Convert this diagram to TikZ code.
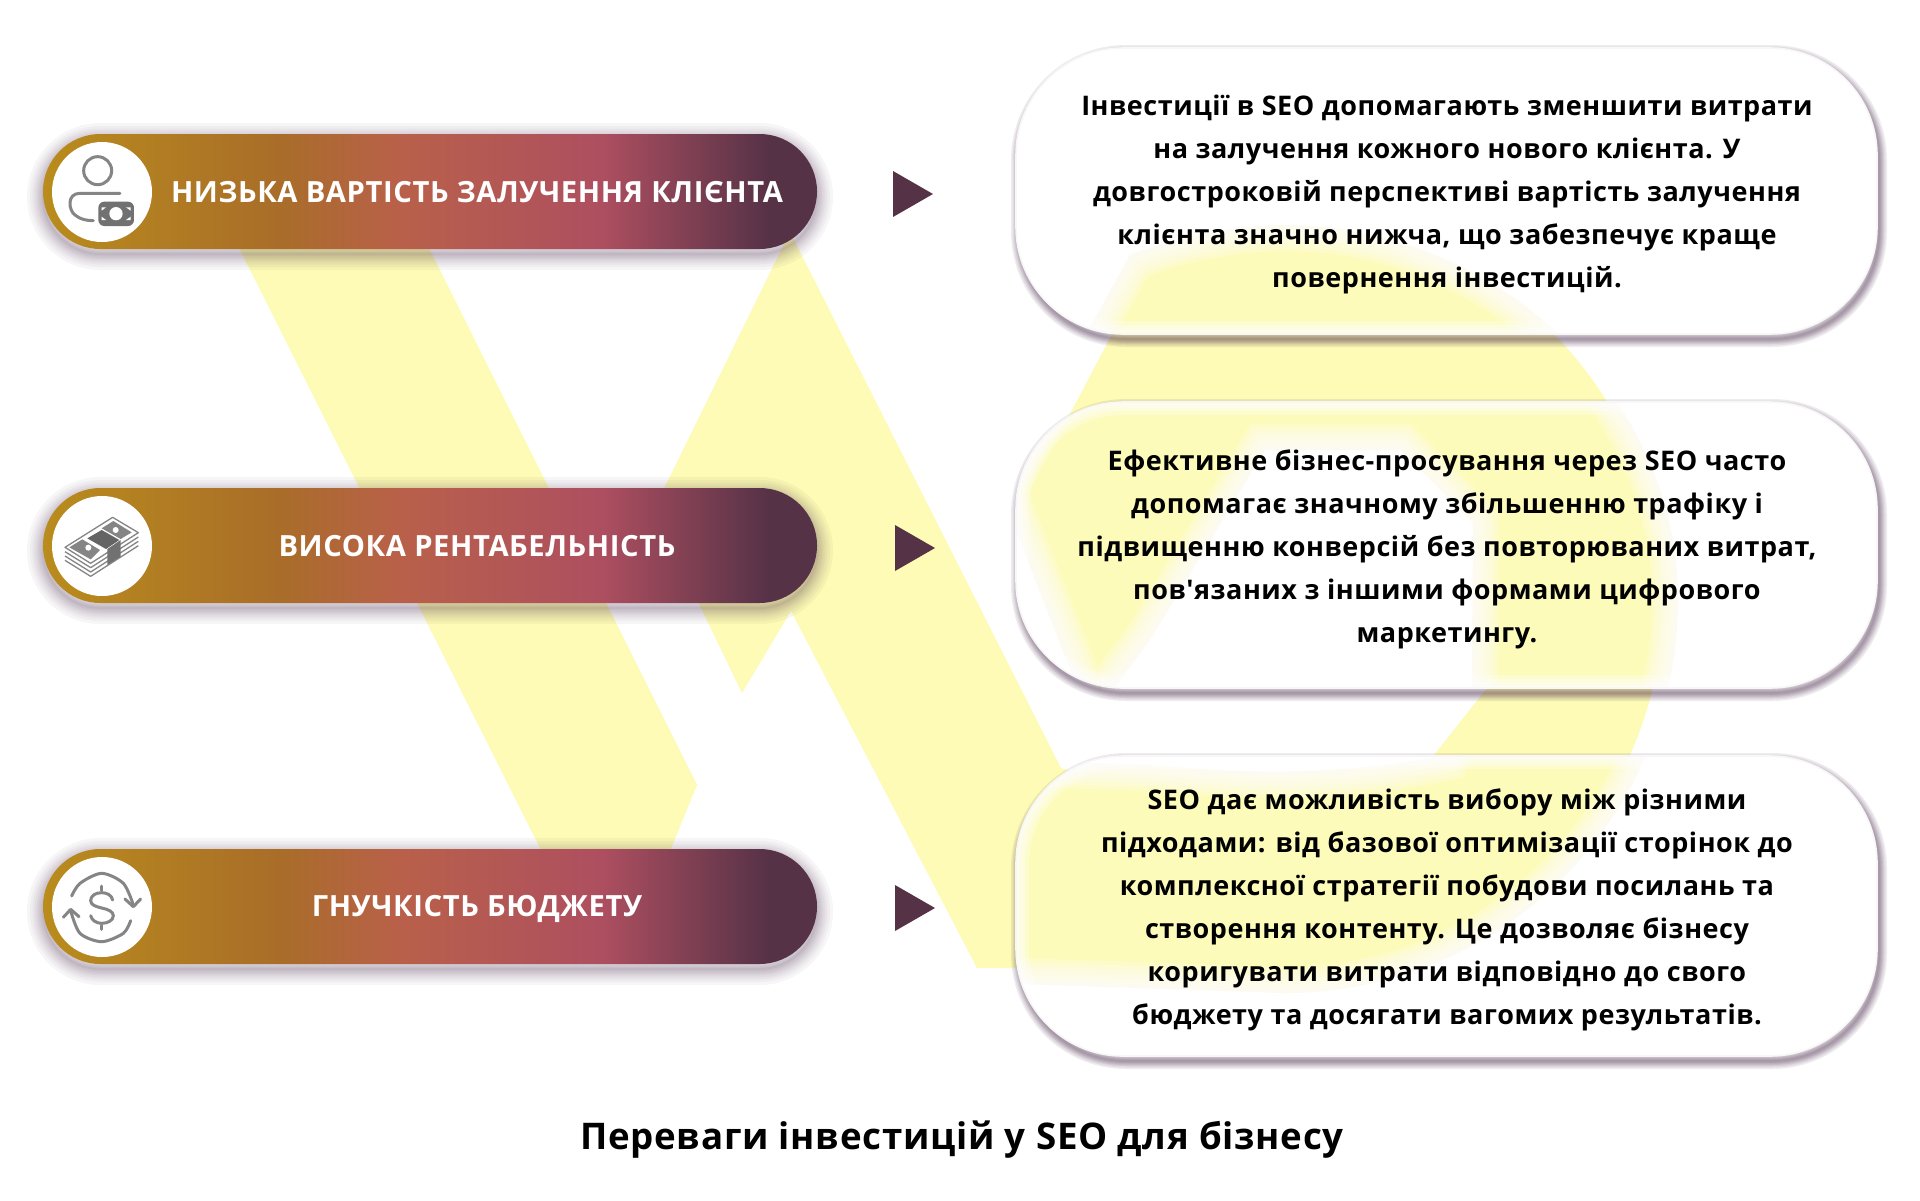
\documentclass[tikz,border=0pt]{standalone}
\usepackage{fontspec}
\setmainfont{Open Sans}[LetterSpace=2,Ligatures=TeXOff]
\usetikzlibrary{calc}
\definecolor{yw}{HTML}{FDFBB5}
\definecolor{plum}{HTML}{563247}
\definecolor{shcol}{HTML}{4E3050}
\definecolor{icg}{HTML}{858585}
\definecolor{pA}{HTML}{B98C1C}
\definecolor{pB}{HTML}{A96D29}
\definecolor{pC}{HTML}{B9604A}
\definecolor{pD}{HTML}{AE4F60}
\definecolor{pE}{HTML}{563247}
\pgfdeclarehorizontalshading{pillgrad}{100bp}{
  color(0bp)=(pA); color(25bp)=(pA); color(40.3bp)=(pB); color(48.1bp)=(pC);
  color(61bp)=(pD); color(71.9bp)=(pE); color(75bp)=(pE); color(100bp)=(pE)}
\def\ringpath{(1030,490) -- (1160,243) .. controls (1200,229) and (1243,222) .. (1285,222)
  .. controls (1494,222) and (1663,391) .. (1663,600) .. controls (1663,809) and (1494,978) .. (1285,978)
  -- (1100,968) -- (1061,768) .. controls (1150,800) and (1300,830) .. (1434,755)
  -- (1487,688) -- (1488,523) -- (1400,410) -- (1230,410) -- (1115,620) -- (1100,690) -- cycle}
\def\ringblur{(1000,490) -- (1130,255) .. controls (1180,235) and (1240,225) .. (1285,225)
  .. controls (1490,225) and (1678,390) .. (1678,600) .. controls (1678,817) and (1502,993) .. (1285,993)
  -- (990,983) -- (1000,760) -- (1150,765) .. controls (1250,775) and (1350,775) .. (1445,755)
  -- (1472,695) -- (1473,523) -- (1400,450) -- (1265,450) -- (1150,640) -- (1090,720) -- cycle}
\def\ringedge{(1000,760) -- (1150,765) .. controls (1250,775) and (1350,775) .. (1445,755)
  -- (1472,695) -- (1473,523) -- (1400,450) -- (1265,450) -- (1150,640) -- (1090,720)
  -- (1000,490) -- (1130,255) .. controls (1180,235) and (1240,225) .. (1285,225)
  .. controls (1490,225) and (1678,390) .. (1678,600) .. controls (1678,817) and (1502,993) .. (1285,993)
  -- (990,983)}
\def\wright{(790,232) -- (1162,968) -- (977,968) -- (791,611) -- (742,693) -- (699,604) -- (652,513) -- cycle}
\def\wbox{(790,232) -- (1150,945) -- (977,945) -- (791,611) -- (742,693) -- (699,604) -- (652,513) -- cycle}
\def\wleft{(210,190) -- (400,190) -- (697,785) -- (650,900) -- (566,900) -- cycle}
\newcommand\softshadow[7]{% x1 y1 x2 y2 radius alpha widths
  \foreach \w in {#7}{
    \draw[shcol,opacity=#6,line width=\w pt,rounded corners=#5pt] (#1,#2) rectangle (#3,#4);}}
\newcommand\glassbox[2]{%
  \softshadow{1019}{#1+5}{1879}{#2+5}{107}{.09}{16,13,10,8,6,4,2}
  \begin{scope}
    \clip[rounded corners=107pt] (1016,#1) rectangle (1877,#2);
    \fill[white] (1000,#1) rectangle (1900,#2);
    \fill[yw] \wbox;
    \fill[yw] \ringblur;
    \foreach \w in {52,44,36,28,20,12,6}{\draw[white,opacity=.22,line width=\w pt] \ringedge;}
    \fill[white,opacity=.08] (1000,#1) rectangle (1900,#2);
    \foreach \w in {26,18,12,6}{\draw[white,opacity=.3,line width=\w pt,rounded corners=107pt] (1016,#1) rectangle (1877,#2);}
  \end{scope}
  \draw[white!97!black,line width=1.6pt,rounded corners=107pt] (1016,#1) rectangle (1877,#2);
}
\newcommand\pill[1]{%
  \softshadow{43}{#1+5}{817}{#1+120}{57.5}{.045}{32,26,21,17,13,10,7,4,2}
  \shade[shading=pillgrad,rounded corners=57.5pt] (43,#1) rectangle (817,#1+115);
  \fill[white] (102,#1+58) circle[radius=50];
}
\begin{document}
\begin{tikzpicture}[x=1pt,y=-1pt,
  pilltext/.style={text=white,font=\fontsize{29.2}{34}\selectfont\bfseries,inner sep=0pt},
  bodytext/.style={text=black,align=center,font=\fontsize{27}{43}\selectfont\bfseries,inner sep=0pt},
  titletext/.style={text=black,font=\fontsize{36.7}{44}\selectfont\bfseries,inner sep=0pt},
  marker/.style={fill=plum},
  icline/.style={draw=icg,line width=3pt,line cap=round,line join=round},
  icthin/.style={draw=icg,line width=1.3pt,line join=round}]
\useasboundingbox (0,0) rectangle (1920,1200);
\fill[white] (0,0) rectangle (1920,1200);
% background logo
\fill[yw] \wleft;
\fill[yw] \wright;
\fill[yw] \ringpath;
% pills
\pill{134}
\pill{488}
\pill{849}
% icon 1
\begin{scope}[shift={(0,100)},scale=1/3]
  \draw[icline] (293,212) circle[radius=42];
  \draw[icline] (360,280) -- (240,280) .. controls (200,280) and (205,330) .. (225,345) .. controls (240,358) and (260,362) .. (280,362);
  \fill[icg!85!black,rounded corners=6pt] (295,305) rectangle (402,378);
  \fill[white] (348,341) circle[radius=20];
  \fill[white] (318,322) -- (305,322) -- (305,332) -- cycle;
  \fill[white] (378,322) -- (392,322) -- (392,332) -- cycle;
  \fill[white] (318,360) -- (305,360) -- (305,350) -- cycle;
  \fill[white] (378,360) -- (392,360) -- (392,350) -- cycle;
\end{scope}
% icon 2
\begin{scope}[shift={(0,460)},scale=1/3]
  \foreach \k in {39,26,13}{\draw[icthin] (195,262+\k) -- (272,310+\k) -- (415,218+\k);}
  \draw[icthin,fill=white] (195,262) -- (338,172) -- (415,218) -- (272,310) -- cycle;
  \fill[icg] (208,262) -- (247,238) -- (300,270) -- (272,298) -- cycle;
  \fill[icg!75!black] (262,235) -- (305,210) -- (358,240) -- (318,267) -- cycle;
  \fill[icg] (305,205) -- (340,183) -- (395,217) -- (362,237) -- cycle;
  \fill[white] (265,263) circle[radius=9];
  \fill[white] (347,210) circle[radius=9];
  \fill[icg!85!black] (322,267) -- (362,240) -- (362,290) -- (322,315) -- cycle;
\end{scope}
% icon 3
\begin{scope}[shift={(0,820)},scale=1/3]
  \draw[icline] plot[smooth] coordinates {(215,228) (240,190) (305,160) (370,190) (400,255)};
  \draw[icline] (375,237) -- (400,260) -- (422,237);
  \draw[icline] plot[smooth] coordinates {(392,302) (370,340) (305,365) (240,340) (212,272)};
  \draw[icline] (190,292) -- (212,268) -- (237,290);
  \draw[icline] (338,240) .. controls (335,225) and (320,218) .. (305,218) .. controls (285,218) and (272,228) .. (272,242)
     .. controls (272,256) and (290,260) .. (305,264) .. controls (325,268) and (340,275) .. (340,287)
     .. controls (340,302) and (322,310) .. (305,310) .. controls (288,310) and (275,300) .. (272,287);
  \draw[icline] (305,198) -- (305,212);
  \draw[icline] (305,316) -- (305,328);
\end{scope}
\node[pilltext] (p1) at (477,192) {НИЗЬКА ВАРТІСТЬ ЗАЛУЧЕННЯ КЛІЄНТА};
\node[pilltext] (p2) at (477,546) {ВИСОКА РЕНТАБЕЛЬНІСТЬ};
\node[pilltext] (p3) at (477,909) {ГНУЧКІСТЬ БЮДЖЕТУ};
% markers
\fill[marker] (893,171) -- (933,194) -- (893,217) -- cycle;
\fill[marker] (895,525) -- (935,548) -- (895,571) -- cycle;
\fill[marker] (895,885) -- (935,908) -- (895,931) -- cycle;
% boxes
\glassbox{48}{334}
\glassbox{402}{688}
\glassbox{756}{1056}
\node[bodytext] (b1) at (1447,194) {Інвестиції в SEO допомагають зменшити витрати\\на залучення кожного нового клієнта. У\\довгостроковій перспективі вартість залучення\\клієнта значно нижча, що забезпечує краще\\повернення інвестицій.};
\node[bodytext] (b2) at (1447,549) {Ефективне бізнес-просування через SEO часто\\допомагає значному збільшенню трафіку і\\підвищенню конверсій без повторюваних витрат,\\пов'язаних з іншими формами цифрового\\маркетингу.};
\node[bodytext] (b3) at (1447,910) {SEO дає можливість вибору між різними\\підходами: від базової оптимізації сторінок до\\комплексної стратегії побудови посилань та\\створення контенту. Це дозволяє бізнесу\\коригувати витрати відповідно до свого\\бюджету та досягати вагомих результатів.};
\node[titletext] (t) at (962,1140) {Переваги інвестицій у SEO для бізнесу};
\end{tikzpicture}
\end{document}
